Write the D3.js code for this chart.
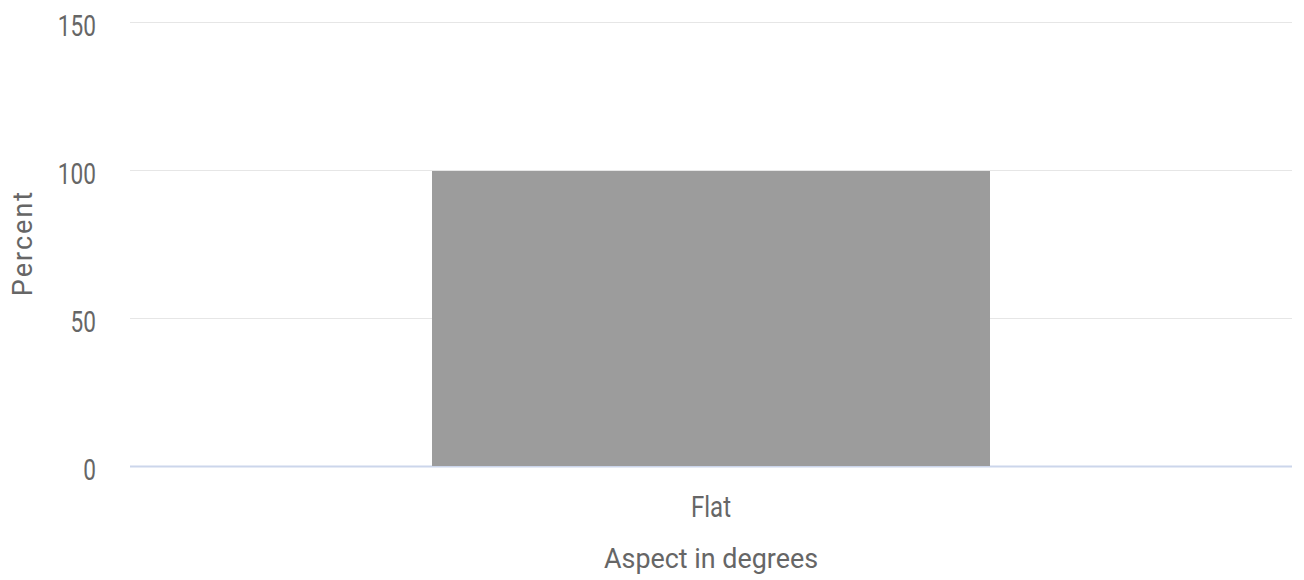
<!DOCTYPE html>
<html><head><meta charset="utf-8">
<script src="https://cdn.jsdelivr.net/npm/d3@7"></script>
<style>body{margin:0;background:#fff}svg{display:block}text{font-family:Roboto,"Liberation Sans",sans-serif;fill:#666}</style>
</head><body>
<svg id="c" width="1304" height="580"></svg>
<script>
const categories = ["Flat"];
const values = [100];
const yTicks = [0, 50, 100, 150];
const yTitle = "Percent";
const xTitle = "Aspect in degrees";

const svg = d3.select("#c");
const m = {l:130, r:12, t:22, b:114};
const W = 1304, H = 580;
const x = d3.scaleBand().domain(categories).range([m.l, W-m.r]).paddingInner(0.2).paddingOuter(0.433);
const y = d3.scaleLinear().domain([0,150]).range([H-m.b, m.t]);

const grid = svg.append("g");
yTicks.forEach(t=>{
  grid.append("line").attr("x1",m.l).attr("x2",W-m.r).attr("y1",y(t)+0.5).attr("y2",y(t)+0.5)
    .attr("stroke", t===0 ? "#ccd6eb" : "#e6e6e6").attr("stroke-width", t===0?2:1);
});

svg.append("g").selectAll("rect").data(categories).join("rect")
  .attr("x", d=>x(d)).attr("width", x.bandwidth())
  .attr("y", (d,i)=>y(values[i])+1).attr("height",(d,i)=>y(0)-y(values[i])-1)
  .attr("fill","#9c9c9c");

// y tick labels (condensed look)
svg.append("g").selectAll("text").data(yTicks).join("text")
  .attr("transform", d=>`translate(96,${y(d)+14}) scale(0.78,1)`)
  .attr("text-anchor","end").attr("font-size",29).text(d=>d);

// x tick labels
svg.append("g").selectAll("text").data(categories).join("text")
  .attr("transform", d=>`translate(${x(d)+x.bandwidth()/2},517) scale(0.8,1)`)
  .attr("text-anchor","middle").attr("font-size",30).text(d=>d);

svg.append("text").attr("transform",`translate(${x("Flat")+x.bandwidth()/2},568) scale(0.96,1)`)
  .attr("text-anchor","middle").attr("font-size",28).text(xTitle);
svg.append("text").attr("transform","translate(32,243) rotate(-90)")
  .attr("text-anchor","middle").attr("font-size",27).attr("letter-spacing",2).text(yTitle);
</script>
</body></html>
